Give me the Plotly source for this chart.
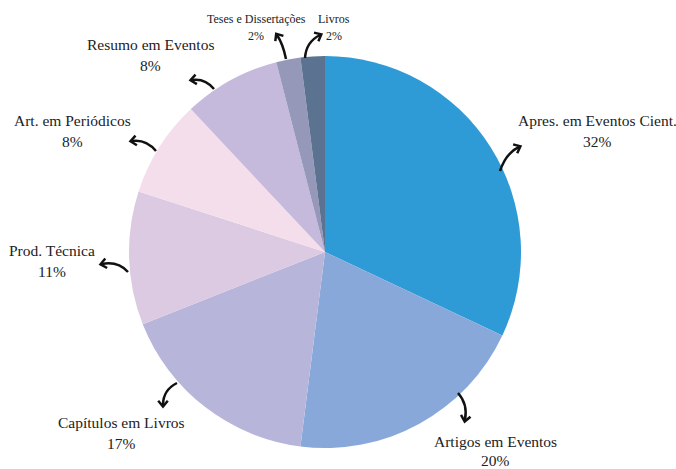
import math
import plotly.graph_objects as go

# Production categories and their shares (%)
categories = [
    "Apres. em Eventos Cient.",
    "Artigos em Eventos",
    "Capítulos em Livros",
    "Prod. Técnica",
    "Art. em Periódicos",
    "Resumo em Eventos",
    "Teses e Dissertações",
    "Livros",
]
shares = [32, 20, 17, 11, 8, 8, 2, 2]
colors = ["#2E9AD6", "#89A8DA", "#B8B5DB", "#DCC9E2",
          "#F5DEEB", "#C5BADB", "#9598B8", "#5B7290"]

W, H = 676, 469
CX, CY, R = 325, 252, 196

# Label layout (pixel space): label centre x, first-line y, font size,
# line gap, and a curved leader: start, control, end points.
label_pos = [
    (597, 120, 15.5, 21, (500, 171), (506, 153), (519, 147)),
    (495, 441, 15.5, 19, (458, 393), (468, 404), (465, 420)),
    (121, 422, 15.5, 21, (177, 383), (163, 390), (163, 405)),
    (52, 250, 15.5, 21, (128, 272), (118, 261), (102, 264)),
    (72, 120, 15.5, 21, (156, 151), (146, 139), (132, 141)),
    (150, 44, 15.5, 21, (214, 89), (205, 78), (192, 80)),
    (256, 19, 12, 17, (286, 59), (283, 44), (277, 35)),
    (334, 19, 12, 17, (305, 58), (306, 42), (320, 35)),
]

fig = go.Figure()
fig.add_trace(go.Pie(
    labels=categories,
    values=shares,
    marker=dict(colors=colors, line=dict(width=0)),
    sort=False,
    direction="clockwise",
    rotation=0,
    textinfo="none",
    hoverinfo="label+percent",
    showlegend=False,
    domain=dict(x=[(CX - R) / W, (CX + R) / W],
                y=[(H - (CY + R)) / H, (H - (CY - R)) / H]),
))

shapes = []
annotations = []
font_family = "Liberation Serif, Times New Roman, serif"
for name, share, (lx, ly, fs, gap, p0, pc, p1) in zip(categories, shares, label_pos):
    annotations.append(dict(x=lx, y=ly, xref="x", yref="y", text=name,
                            showarrow=False, xanchor="center", yanchor="middle",
                            font=dict(family=font_family, size=fs, color="#222")))
    annotations.append(dict(x=lx, y=ly + gap, xref="x", yref="y", text=f"{share}%",
                            showarrow=False, xanchor="center", yanchor="middle",
                            font=dict(family=font_family, size=fs, color="#222")))
    # curved leader body
    shapes.append(dict(type="path", xref="x", yref="y",
                       path=f"M {p0[0]},{p0[1]} Q {pc[0]},{pc[1]} {p1[0]},{p1[1]}",
                       line=dict(color="#111", width=2.5)))
    # open chevron arrowhead along the end tangent
    dx, dy = p1[0] - pc[0], p1[1] - pc[1]
    n = math.hypot(dx, dy) or 1
    ux, uy = dx / n, dy / n
    tip = (p1[0] + ux * 1.5, p1[1] + uy * 1.5)
    L, a = 7.5, math.radians(40)
    wings = []
    for s in (a, -a):
        bx = -ux * math.cos(s) + uy * math.sin(s)
        by = -uy * math.cos(s) - ux * math.sin(s)
        wings.append((tip[0] + bx * L, tip[1] + by * L))
    shapes.append(dict(type="path", xref="x", yref="y",
                       path=(f"M {wings[0][0]:.1f},{wings[0][1]:.1f} "
                             f"L {tip[0]:.1f},{tip[1]:.1f} "
                             f"L {wings[1][0]:.1f},{wings[1][1]:.1f}"),
                       line=dict(color="#111", width=2.5)))

fig.update_layout(
    width=W, height=H,
    margin=dict(l=0, r=0, t=0, b=0),
    paper_bgcolor="white", plot_bgcolor="rgba(0,0,0,0)",
    xaxis=dict(range=[0, W], visible=False, fixedrange=True, domain=[0, 1]),
    yaxis=dict(range=[H, 0], visible=False, fixedrange=True, domain=[0, 1]),
    shapes=shapes,
    annotations=annotations,
)

fig.write_html("out.html")
